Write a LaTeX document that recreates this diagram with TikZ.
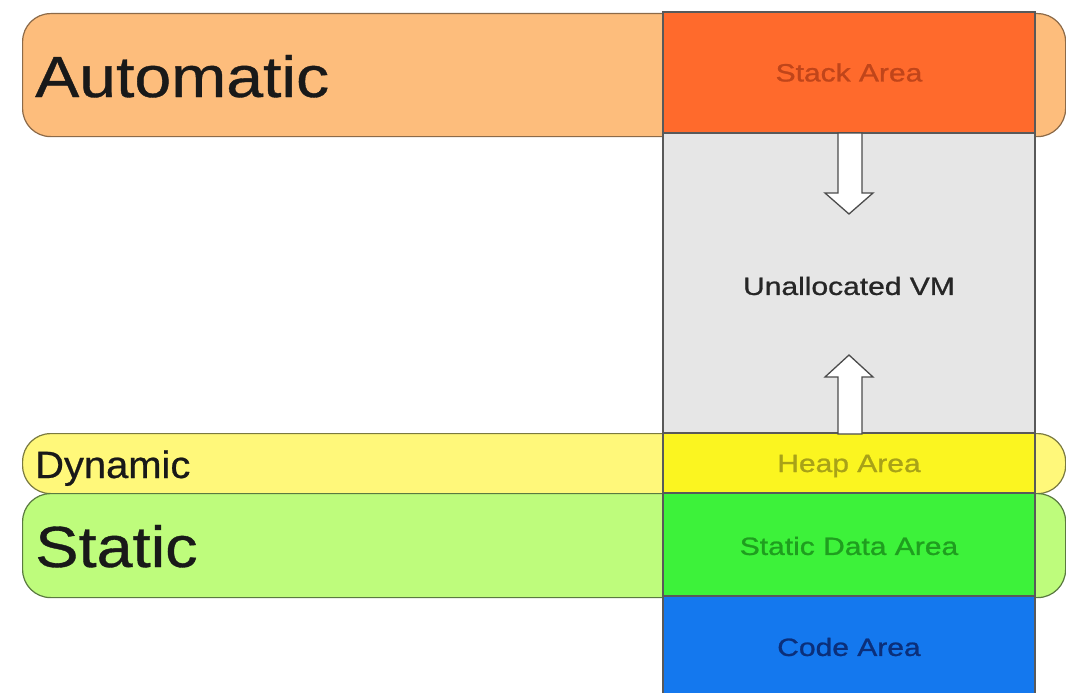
\documentclass[tikz,border=0pt]{standalone}
\usepackage{fontspec}
\usepackage{graphicx}
\setmainfont{Liberation Sans}
\newfontfamily\colfont[FakeBold=0.9]{Liberation Sans}
\newfontfamily\bandfont[FakeBold=0.6]{Liberation Sans}
\definecolor{autoFill}{HTML}{FDBD7C}
\definecolor{autoLine}{HTML}{8C6A48}
\definecolor{dynFill}{HTML}{FFF87A}
\definecolor{dynLine}{HTML}{7A7A40}
\definecolor{statFill}{HTML}{BEFC7C}
\definecolor{statLine}{HTML}{5A7A40}
\definecolor{stackFill}{HTML}{FF6A2C}
\definecolor{stackTxt}{HTML}{C0451A}
\definecolor{unallocFill}{HTML}{E6E6E6}
\definecolor{heapFill}{HTML}{FBF520}
\definecolor{heapTxt}{HTML}{A8A218}
\definecolor{sdataFill}{HTML}{3DF23A}
\definecolor{sdataTxt}{HTML}{1F9E1F}
\definecolor{codeFill}{HTML}{1478EE}
\definecolor{codeTxt}{HTML}{0B2F7A}
\begin{document}
\begin{tikzpicture}[x=1pt,y=-1pt,
  band/.style={rounded corners=28pt, line width=1.2pt, minimum width=1043pt, anchor=north west, inner sep=0pt},
  area/.style={draw=black!65, line width=1.6pt, minimum width=372pt, inner sep=0pt, font=\colfont\fontsize{25}{27}\selectfont},
  biglabel/.style={anchor=base west, inner sep=0pt, text=black!90, font=\bandfont\fontsize{58}{60}\selectfont},
  midlabel/.style={anchor=base west, inner sep=0pt, text=black!90, font=\bandfont\fontsize{38}{40}\selectfont},
  growarrow/.style={draw=black!70, fill=white, line width=1.3pt, line join=miter}
]
\useasboundingbox (0,0) rectangle (1066,693);
\fill[white] (0,0) rectangle (1066,693);

% bands
\node[band, fill=autoFill, draw=autoLine, minimum height=123pt] (autoband) at (22,13) {};
\node[band, fill=dynFill, draw=dynLine, minimum height=60pt] (dynband) at (22,433) {};
\node[band, fill=statFill, draw=statLine, minimum height=104pt] (statband) at (22,493) {};

% memory column
\node[area, fill=stackFill, text=stackTxt, minimum height=121pt] (stack) at (849,72.5) {\scalebox{1.2}[1]{Stack Area}};
\node[area, fill=unallocFill, minimum height=300pt] (unalloc) at (849,283) {};
\node[area, fill=heapFill, minimum height=60pt] (heap) at (849,463) {};
\node[area, fill=sdataFill, minimum height=103pt] (sdata) at (849,544.5) {};
\node[area, fill=codeFill, minimum height=106pt] (code) at (849,649) {};

% column texts
\node[area, draw=none, minimum width=0pt, text=black!85] (unalloctxt) at (849,286) {\scalebox{1.2}[1]{Unallocated VM}};
\node[area, draw=none, minimum width=0pt, text=heapTxt] (heaptxt) at (849,466) {\scalebox{1.2}[1]{Heap Area}};
\node[area, draw=none, minimum width=0pt, text=sdataTxt] (sdatatxt) at (849,546) {\scalebox{1.2}[1]{Static Data Area}};
\node[area, draw=none, minimum width=0pt, text=codeTxt] (codetxt) at (849,647) {\scalebox{1.2}[1]{Code Area}};

% growth arrows
\draw[growarrow] (838,133) -- (862,133) -- (862,193) -- (873,193) -- (849,214) -- (825,193) -- (838,193) -- cycle;
\draw[growarrow] (838,434) -- (862,434) -- (862,377) -- (873,377) -- (849,355) -- (825,377) -- (838,377) -- cycle;

% band labels
\node[biglabel] (autolbl) at (35,97) {\scalebox{1.14}[1]{Automatic}};
\node[midlabel] (dynlbl) at (35,478) {\scalebox{1.05}[1]{Dynamic}};
\node[biglabel] (statlbl) at (35,567) {\scalebox{1.12}[1]{Static}};
\end{tikzpicture}
\end{document}
